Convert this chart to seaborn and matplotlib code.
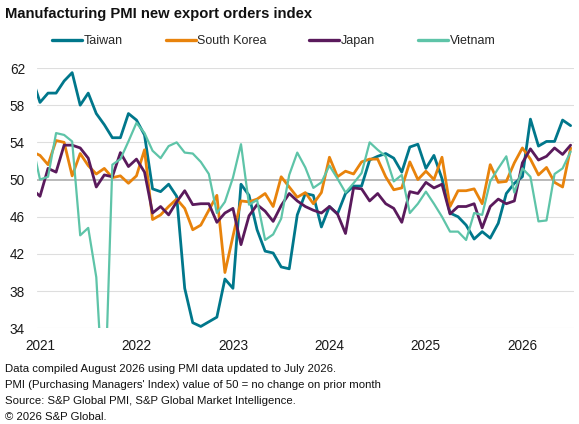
import numpy as np
import pandas as pd
import matplotlib
matplotlib.use("Agg")
import matplotlib.pyplot as plt
from matplotlib.lines import Line2D
import seaborn as sns

# Monthly, Dec 2020 .. Jul 2026 (Dec 2020 is clipped at the left edge)
months = pd.date_range("2020-12-01", "2026-07-01", freq="MS")

taiwan = [61.0,
          58.3, 59.3, 59.3, 60.6, 61.5, 58.0, 59.3, 57.1, 55.9, 54.5, 54.5, 57.1,
          56.4, 54.8, 49.0, 48.7, 49.5, 48.2, 38.3, 34.6, 34.2, 34.7, 35.2, 39.3,
          38.3, 49.5, 48.3, 44.6, 42.3, 42.1, 40.6, 40.4, 46.2, 48.5, 48.3, 44.9,
          47.1, 46.3, 48.5, 49.3, 49.3, 52.1, 52.5, 52.8, 52.3, 50.8, 53.5, 53.8,
          51.2, 52.6, 50.1, 46.4, 46.0, 45.1, 43.6, 44.4, 43.7, 45.3, 48.5, 49.6,
          50.3, 56.5, 53.6, 54.1, 54.1, 56.4, 55.8]
south_korea = [53.0,
               52.6, 51.6, 54.2, 54.0, 50.4, 52.8, 51.5, 50.6, 51.2, 50.2, 50.4, 49.6,
               50.4, 53.2, 45.7, 46.2, 47.1, 47.9, 46.9, 44.6, 45.1, 46.7, 48.3, 40.0,
               43.9, 47.7, 47.6, 47.9, 48.5, 47.1, 50.3, 49.2, 48.1, 48.6, 47.4, 48.6,
               52.4, 50.3, 50.9, 50.6, 51.9, 52.2, 52.2, 50.3, 48.9, 49.1, 51.9, 50.0,
               50.9, 50.0, 52.4, 47.1, 48.8, 48.8, 49.0, 47.4, 51.6, 49.7, 49.8, 51.8,
               53.4, 52.2, 50.5, 51.3, 49.7, 49.2, 53.4]
japan = [49.0,
         48.2, 51.2, 50.8, 53.7, 53.7, 53.4, 52.3, 49.2, 50.5, 50.3, 52.9, 51.4,
         52.2, 50.8, 46.4, 47.1, 46.2, 47.6, 48.8, 47.3, 47.4, 47.4, 45.4, 46.4,
         46.9, 43.0, 46.1, 47.3, 46.6, 45.5, 47.2, 48.5, 47.7, 47.1, 46.7, 46.4,
         47.1, 46.3, 44.2, 49.1, 49.0, 47.7, 48.5, 47.4, 46.9, 45.4, 48.7, 48.5,
         49.7, 49.1, 49.5, 46.3, 47.1, 47.1, 47.4, 44.8, 47.1, 47.9, 47.4, 47.7,
         51.8, 53.3, 52.1, 52.5, 53.4, 52.7, 53.7]
vietnam = [54.0,
           50.0, 50.3, 55.0, 54.8, 54.1, 44.0, 44.8, 39.5, 24.5, 51.6, 52.2, 54.1,
           56.1, 55.0, 53.1, 52.3, 53.6, 54.0, 52.9, 52.8, 51.9, 50.6, 46.4, 47.6,
           50.2, 53.8, 47.3, 47.8, 43.5, 44.1, 45.8, 50.5, 52.9, 51.3, 49.1, 49.7,
           51.5, 50.1, 48.6, 49.6, 50.7, 54.0, 53.2, 52.5, 49.8, 50.5, 46.4, 47.4,
           48.7, 47.4, 46.0, 44.4, 44.4, 43.5, 46.4, 46.2, 49.8, 51.2, 52.5, 48.6,
           51.2, 50.3, 45.5, 45.6, 50.6, 51.2, 53.0]

series_names = ["Taiwan", "South Korea", "Japan", "Vietnam"]
colors = ["#00778B", "#E8830C", "#5A1A5C", "#5EC4A8"]
year_labels = ["2021", "2022", "2023", "2024", "2025", "2026"]
y_ticks = [34, 38, 42, 46, 50, 54, 58, 62]

footer_lines = [
    "Data compiled August 2026 using PMI data updated to July 2026.",
    "PMI (Purchasing Managers' Index) value of 50 = no change on prior month",
    "Source: S&P Global PMI, S&P Global Market Intelligence.",
    "\u00a9 2026 S&P Global.",
]

# month index relative to Jan 2021
midx = (months.year - 2021) * 12 + (months.month - 1)
df = pd.concat([
    pd.DataFrame({"m": midx, "value": vals, "country": name})
    for name, vals in zip(series_names, [taiwan, south_korea, japan, vietnam])
])

sns.set_theme(style="white")
plt.rcParams["font.family"] = ["Liberation Sans", "DejaVu Sans"]

fig = plt.figure(figsize=(5.79, 4.24), dpi=100)
ax = fig.add_axes([36.7 / 579, 1 - 328.3 / 424, (574 - 36.7) / 579, (328.3 - 68) / 424])

palette = dict(zip(series_names, colors))
sns.lineplot(data=df, x="m", y="value", hue="country", hue_order=series_names,
             palette=palette, ax=ax, linewidth=2.0, legend=False)
for line, name in zip(ax.get_lines(), series_names):
    if name == "Vietnam":
        line.set_linewidth(1.6)
    line.set_solid_joinstyle("round")

ax.set_xlim(-0.41, 66.42)
ax.set_ylim(34, 62)
ax.set_xlabel("")
ax.set_ylabel("")
ax.set_xticks([i * 12 for i in range(len(year_labels))])
ax.set_xticklabels(year_labels)
ax.set_yticks(y_ticks)
ax.set_yticklabels([str(t) for t in y_ticks])
for s in ax.spines.values():
    s.set_visible(False)
ax.tick_params(axis="both", length=0, labelsize=9.8, colors="#1a1a1a")
ax.tick_params(axis="y", pad=8.5)
ax.tick_params(axis="x", pad=7.5)
for t in y_ticks:
    if t == 50:
        ax.axhline(t, color="#b4b4b4", lw=1.3, zorder=0)
    else:
        ax.axhline(t, color="#dedede", lw=0.8, zorder=0)

handles = [Line2D([0], [0], color=c, lw=2.4) for c in colors]
fig.legend(handles, series_names, loc="center", bbox_to_anchor=(0.473, 1 - 41 / 424),
           ncol=4, frameon=False, fontsize=9.0, handlelength=2.4, handletextpad=0.15,
           columnspacing=3.4, borderpad=0)

fig.text(5 / 579, 1 - 18 / 424, "Manufacturing PMI new export orders index",
         fontsize=10.6, fontweight="bold", color="#111111", va="baseline", ha="left")

for k, line in enumerate(footer_lines):
    fig.text(5 / 579, 1 - (371.5 + 16.3 * k) / 424, line, fontsize=8.2,
             color="#111111", va="baseline", ha="left")

fig.savefig("out.png", dpi=100)
